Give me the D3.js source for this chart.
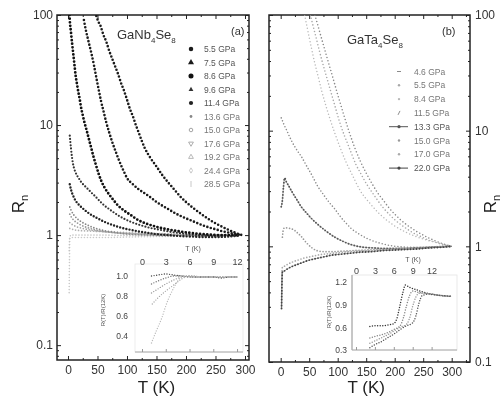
<!DOCTYPE html>
<html>
<head>
<meta charset="utf-8">
<script src="https://cdn.jsdelivr.net/npm/d3@7"></script>
<style>
  body { margin: 0; background: #fff; }
  svg { display: block; font-family: "Liberation Sans", Arial, sans-serif; filter: blur(0.35px); }
</style>
</head>
<body>
<script>
// ---- panel (a): GaNb4Se8, R_n vs T ----
var pressuresA = ["5.5 GPa", "7.5 GPa", "8.6 GPa", "9.6 GPa", "11.4 GPa", "13.6 GPa",
                  "15.0 GPa", "17.6 GPa", "19.2 GPa", "24.4 GPa", "28.5 GPa"];
var nb55 = [[48,98],[51,88],[55,80],[60,66],[65,57],[70,47],[75,40],[80,34],[85,29],[90,24],[95,20.5],[100,17],[105,14],[110,12],[115,10],[120,8.5],[125,7.2],[130,6.2],[140,5.0],[150,4.2],[160,3.5],[170,3.0],[180,2.6],[190,2.25],[200,2.0],[210,1.8],[220,1.64],[230,1.5],[240,1.38],[250,1.28],[260,1.2],[270,1.13],[280,1.07],[290,1.02],[295,1.0]];
var nb75 = [[27,90],[30,74],[33,63],[36,54],[40,44],[44,35],[48,27],[52,21],[56,16.5],[60,13.5],[65,10.5],[70,8.5],[75,7],[80,5.9],[85,5.0],[90,4.3],[95,3.75],[100,3.3],[110,2.9],[120,2.6],[130,2.4],[140,2.2],[150,2.0],[160,1.85],[170,1.72],[180,1.6],[190,1.5],[200,1.42],[210,1.35],[220,1.28],[230,1.22],[240,1.17],[250,1.13],[260,1.09],[270,1.06],[280,1.03],[290,1.01]];
var nb86 = [[2.5,100],[3,90],[5,70],[7,55],[9,44],[11,35],[13,28],[15,24],[17.5,20],[20,17],[22,14.6],[25,12.3],[28,10.5],[31,9.2],[35,7.6],[39,6.3],[43,5.2],[47,4.4],[52,3.6],[57,3.05],[62,2.7],[67,2.45],[72,2.25],[78,2.05],[85,1.85],[92,1.72],[100,1.6],[108,1.5],[116,1.4],[125,1.32],[135,1.26],[150,1.19],[165,1.14],[180,1.1],[200,1.06],[220,1.03],[240,1.01],[260,1.0],[280,1.0],[290,1.0]];
var nb96 = [[3,8],[4,7],[5,6.2],[6,5.5],[7,5.0],[8,4.6],[10,4.1],[12,3.8],[15,3.5],[18,3.3],[22,3.05],[26,2.88],[30,2.74],[35,2.58],[40,2.42],[45,2.28],[50,2.14],[56,1.98],[62,1.85],[70,1.72],[78,1.6],[86,1.5],[95,1.41],[105,1.33],[115,1.27],[125,1.22],[140,1.16],[155,1.12],[170,1.08],[190,1.04],[210,1.01],[230,0.99],[250,0.98],[270,0.98],[290,0.99]];
var nb114 = [[3,2.9],[5,2.6],[7,2.4],[10,2.2],[13,2.05],[16,1.95],[20,1.85],[25,1.75],[30,1.66],[36,1.57],[42,1.5],[50,1.42],[58,1.35],[66,1.29],[75,1.24],[85,1.19],[95,1.15],[105,1.12],[120,1.08],[135,1.05],[150,1.02],[170,1.0],[190,0.98],[210,0.97],[230,0.96],[250,0.96],[270,0.97],[290,0.99]];
var nb136 = [[3,1.8],[6,1.65],[10,1.52],[15,1.42],[20,1.35],[27,1.28],[35,1.22],[45,1.16],[55,1.12],[65,1.09],[75,1.07],[90,1.04],[105,1.02],[120,1.01],[140,1.0],[170,0.99],[200,0.99],[230,0.99],[260,0.99],[290,1.0]];
var nb150 = [[3,1.55],[6,1.45],[10,1.36],[15,1.3],[20,1.25],[27,1.2],[35,1.16],[45,1.12],[55,1.09],[65,1.07],[80,1.05],[95,1.03],[110,1.02],[130,1.01],[160,1.0],[200,1.0],[240,1.0],[290,1.0]];
var nb176 = [[3,1.3],[8,1.24],[15,1.19],[25,1.15],[35,1.12],[50,1.09],[65,1.07],[80,1.05],[100,1.04],[120,1.03],[140,1.02],[170,1.01],[200,1.0],[240,1.0],[290,1.0]];
var nb192 = [[3,1.15],[10,1.12],[20,1.1],[35,1.09],[50,1.08],[70,1.07],[90,1.06],[110,1.05],[130,1.04],[160,1.03],[190,1.02],[220,1.01],[250,1.0],[290,1.0]];
var nb244 = [[2,0.72],[3,0.97],[6,1.0],[15,1.0],[30,1.0],[60,1.0],[100,0.99],[150,0.99],[200,0.99],[250,0.99],[290,1.0]];
var nb285 = [[2,0.3],[2.5,0.6],[3,0.93],[6,0.95],[15,0.95],[30,0.95],[60,0.95],[100,0.96],[150,0.97],[200,0.98],[250,0.99],[290,1.0]];
var seriesA = [nb55, nb75, nb86, nb96, nb114, nb136, nb150, nb176, nb192, nb244, nb285];

// inset (a): R(T)/R(12K) vs T
var insetA1 = [[1.2,1.0],[2,1.01],[3,1.02],[4,1.01],[5,1.0],[6,0.99],[7,0.99],[8,0.99],[9,0.99],[10,0.98],[11,0.99],[12,0.99]];
var insetA2 = [[1.2,0.92],[2,0.95],[3,0.98],[4,1.0],[5,1.0],[7,0.99],[9,0.99],[12,0.99]];
var insetA3 = [[1.2,0.83],[2,0.87],[3,0.92],[4,0.96],[5,0.99],[6,1.0],[8,0.99],[12,0.99]];
var insetA4 = [[1.3,0.72],[2,0.78],[3,0.85],[4,0.91],[5,0.97],[6,1.0],[8,0.99],[12,0.99]];
var insetA5 = [[1.2,0.33],[1.8,0.45],[2.5,0.58],[3,0.7],[3.5,0.8],[4,0.88],[4.5,0.95],[5,0.99],[6,1.0],[8,0.99],[12,0.99]];
var insetSeriesA = [insetA1, insetA2, insetA3, insetA4, insetA5];

// ---- panel (b): GaTa4Se8 ----
var pressuresB = ["4.6 GPa", "5.5 GPa", "8.4 GPa", "11.5 GPa", "13.3 GPa", "15.0 GPa", "17.0 GPa", "22.0 GPa"];
var ta46 = [[60,100],[65,82],[70,67],[75,55],[80,45],[85,37],[90,30.5],[95,25],[100,20.5],[105,17],[110,14],[115,11.7],[120,9.8],[125,8.3],[130,7.1],[140,5.4],[150,4.3],[160,3.5],[170,2.9],[180,2.5],[190,2.15],[200,1.9],[210,1.7],[220,1.55],[230,1.43],[240,1.33],[250,1.25],[260,1.18],[270,1.12],[280,1.07],[290,1.03],[300,1.0]];
var ta55 = [[52,100],[57,80],[62,64],[67,51],[72,41],[77,33.5],[82,27.5],[87,22.5],[92,18.5],[97,15.2],[102,12.5],[107,10.5],[112,9.0],[118,7.6],[125,6.2],[132,5.1],[140,4.3],[150,3.5],[160,2.95],[170,2.5],[180,2.15],[190,1.9],[200,1.7],[210,1.55],[220,1.43],[230,1.33],[240,1.25],[250,1.19],[260,1.13],[270,1.09],[280,1.05],[290,1.02],[300,1.0]];
var ta84 = [[42,100],[46,80],[50,64],[55,49],[60,38],[66,29],[72,22],[80,16],[88,12],[96,9.2],[105,7],[115,5.3],[125,4.2],[140,3.0],[155,2.4],[170,1.98],[185,1.7],[200,1.5],[220,1.32],[240,1.2],[260,1.12],[280,1.06],[300,1.0]];
var ta115 = [[1,12.9],[3,12.2],[6,11.2],[10,10.2],[15,9.0],[20,8.0],[26,7.1],[32,6.4],[36,6.0],[45,5.0],[55,4.1],[65,3.3],[75,2.8],[85,2.4],[95,2.1],[105,1.8],[115,1.58],[124,1.42],[135,1.3],[153,1.16],[170,1.08],[190,1.02],[210,0.99],[230,0.98],[250,0.98],[270,0.99],[290,1.0],[300,1.0]];
var ta133 = [[1,2.2],[3,2.5],[5,3.3],[7,3.9],[10,3.6],[13,3.4],[20,2.95],[28,2.55],[36,2.2],[45,1.95],[55,1.72],[65,1.55],[80,1.35],[95,1.2],[110,1.1],[125,1.03],[140,0.99],[160,0.97],[180,0.96],[200,0.96],[220,0.96],[240,0.97],[260,0.98],[280,0.99],[300,1.0]];
var ta150 = [[3,1.2],[5,1.42],[7.5,1.45],[12,1.44],[18,1.42],[24,1.38],[30,1.3],[36,1.22],[42,1.12],[48,1.04],[55,0.97],[63,0.92],[75,0.9],[90,0.9],[110,0.91],[130,0.92],[150,0.93],[170,0.94],[190,0.95],[210,0.96],[230,0.97],[250,0.98],[270,0.99],[290,1.0],[300,1.0]];
var ta170 = [[1.5,0.3],[2,0.45],[2.5,0.62],[3,0.66],[6,0.67],[10,0.69],[20,0.73],[30,0.76],[40,0.79],[50,0.81],[60,0.83],[70,0.85],[80,0.86],[90,0.87],[100,0.88],[120,0.9],[140,0.91],[160,0.92],[180,0.93],[200,0.94],[220,0.95],[240,0.96],[260,0.97],[280,0.99],[300,1.0]];
var ta220 = [[1.5,0.29],[2,0.4],[2.5,0.55],[3,0.6],[6,0.61],[10,0.63],[20,0.67],[30,0.7],[40,0.73],[50,0.76],[60,0.78],[70,0.8],[80,0.82],[90,0.84],[100,0.85],[120,0.87],[140,0.89],[160,0.9],[180,0.92],[200,0.93],[220,0.94],[240,0.95],[260,0.97],[280,0.98],[300,1.0]];
var seriesB = [ta46, ta55, ta84, ta115, ta133, ta150, ta170, ta220];

var insetB1 = [[2.2,0.61],[3,0.62],[4,0.62],[5,0.63],[6,0.65],[6.5,0.72],[7,0.9],[7.5,1.08],[7.8,1.16],[8.5,1.13],[9.5,1.1],[10.5,1.07],[12,1.04],[13.5,1.02],[15,1.01]];
var insetB2 = [[2.2,0.46],[3,0.48],[4,0.5],[5,0.53],[6,0.57],[7,0.62],[7.5,0.72],[8,0.88],[8.5,1.02],[9,1.08],[10,1.06],[11,1.05],[12,1.04],[13.5,1.02],[15,1.01]];
var insetB3 = [[2.2,0.39],[3,0.42],[4,0.46],[5,0.5],[6,0.55],[7,0.6],[8,0.64],[8.5,0.72],[9,0.88],[9.5,1.0],[10,1.05],[11,1.05],[12,1.04],[13.5,1.02],[15,1.01]];
var insetB4 = [[2.2,0.33],[3,0.37],[4,0.41],[5,0.46],[6,0.51],[7,0.57],[8,0.62],[9,0.66],[9.5,0.75],[10,0.92],[10.5,1.02],[11.5,1.04],[12.5,1.03],[14,1.02],[15,1.01]];
var insetSeriesB = [insetB1, insetB2, insetB3, insetB4];

var tTicks = [0, 50, 100, 150, 200, 250, 300];
var rTicks = [0.1, 1, 10, 100];
var insetTTicks = [0, 3, 6, 9, 12];
var insetATicks = [0.4, 0.6, 0.8, 1.0];
var insetBTicks = [0.3, 0.6, 0.9, 1.2];

// styles (kept apart from the values)
var styleA = [
  { color: "#1b1b1b", w: 2.6, gap: 3.6, sym: d3.symbolCircle, size: 16 },
  { color: "#1b1b1b", w: 2.6, gap: 3.6, sym: d3.symbolTriangle, size: 16 },
  { color: "#111", w: 2.8, gap: 3.6, sym: d3.symbolCircle, size: 20 },
  { color: "#333", w: 2.2, gap: 3.2, sym: d3.symbolTriangle, size: 10 },
  { color: "#222", w: 2.4, gap: 3.2, sym: d3.symbolCircle, size: 14 },
  { color: "#888", w: 1.8, gap: 3, sym: d3.symbolCircle, size: 6 },
  { color: "#999", w: 1.8, gap: 3, sym: d3.symbolCircle, size: 10, open: true },
  { color: "#a5a5a5", w: 1.7, gap: 3, sym: d3.symbolTriangle, size: 10, open: true, rot: 180 },
  { color: "#b0b0b0", w: 1.7, gap: 3, sym: d3.symbolTriangle, size: 10, open: true },
  { color: "#c2c2c2", w: 1.6, gap: 3, sym: d3.symbolDiamond, size: 8, open: true },
  { color: "#c8c8c8", w: 1.6, gap: 3, sym: null }
];
var styleB = [
  { color: "#8a8a8a", w: 1.6, gap: 3.4, mark: "dash" },
  { color: "#a8a8a8", w: 1.6, gap: 3.4, mark: "dot" },
  { color: "#b8b8b8", w: 1.5, gap: 3.4, mark: "dot" },
  { color: "#8c8c8c", w: 1.6, gap: 3.2, mark: "slash" },
  { color: "#555", w: 1.9, gap: 3, mark: "line" },
  { color: "#999", w: 1.7, gap: 3, mark: "dot" },
  { color: "#aaa", w: 1.7, gap: 3, mark: "dot" },
  { color: "#444", w: 1.9, gap: 3, mark: "line" }
];
var insetStyleA = ["#444", "#777", "#999", "#aaa", "#bbb"];
var insetStyleB = ["#333", "#888", "#999", "#555"];

var svg = d3.select("body").append("svg")
    .attr("width", 502)
    .attr("height", 398);

var ink = "#222";

function minorLog(lo, hi) {
    var out = [];
    for (var e = -2; e <= 2; e++) {
        for (var m = 2; m <= 9; m++) {
            var v = m * Math.pow(10, e);
            if (v > lo && v < hi) out.push(v);
        }
    }
    return out;
}

function cleanAxis(g, fs) {
    g.select(".domain").remove();
    g.selectAll(".tick line").attr("stroke", ink).attr("stroke-width", 1);
    g.selectAll(".tick text").attr("fill", "#333").attr("font-size", fs || 12);
}

function dotted(g, x, y, data, st, clip) {
    g.append("path")
        .datum(data)
        .attr("clip-path", clip ? "url(#" + clip + ")" : null)
        .attr("fill", "none")
        .attr("stroke", st.color)
        .attr("stroke-width", st.w)
        .attr("stroke-linecap", "round")
        .attr("stroke-dasharray", "0," + st.gap)
        .attr("d", d3.line().x(d => x(d[0])).y(d => y(d[1])).curve(d3.curveMonotoneX));
}

function drawPanel(p) {
    var g = svg.append("g");
    var x = d3.scaleLinear().domain(p.tDomain).range([p.left, p.right]);
    var y = d3.scaleLog().domain(p.rDomain).range([p.bottom, p.top]);

    g.append("clipPath").attr("id", p.id)
      .append("rect")
        .attr("x", p.left).attr("y", p.top)
        .attr("width", p.right - p.left).attr("height", p.bottom - p.top);

    var minorT = d3.range(25, 330, 50).filter(t => t < p.tDomain[1]);
    var minorR = minorLog(p.rDomain[0], p.rDomain[1]);

    // bottom + top ticks
    g.append("g").attr("transform", `translate(0,${p.bottom})`)
        .call(d3.axisBottom(x).tickValues(tTicks).tickSize(-4).tickPadding(5))
        .call(a => cleanAxis(a, 12));
    g.append("g").attr("transform", `translate(0,${p.bottom})`)
        .call(d3.axisBottom(x).tickValues(minorT).tickSize(-2).tickFormat(""))
        .call(a => cleanAxis(a));
    g.append("g").attr("transform", `translate(0,${p.top})`)
        .call(d3.axisTop(x).tickValues(tTicks).tickSize(-4).tickFormat(""))
        .call(a => cleanAxis(a));
    g.append("g").attr("transform", `translate(0,${p.top})`)
        .call(d3.axisTop(x).tickValues(minorT).tickSize(-2).tickFormat(""))
        .call(a => cleanAxis(a));

    // left + right log ticks
    var labelLeft = p.labels === "left";
    g.append("g").attr("transform", `translate(${p.left},0)`)
        .call(d3.axisLeft(y).tickValues(rTicks).tickSize(-4).tickPadding(4)
            .tickFormat(labelLeft ? (d => String(d)) : ""))
        .call(a => cleanAxis(a, 12));
    g.append("g").attr("transform", `translate(${p.left},0)`)
        .call(d3.axisLeft(y).tickValues(minorR).tickSize(-2).tickFormat(""))
        .call(a => cleanAxis(a));
    g.append("g").attr("transform", `translate(${p.right},0)`)
        .call(d3.axisRight(y).tickValues(rTicks).tickSize(-4).tickPadding(5)
            .tickFormat(labelLeft ? "" : (d => String(d))))
        .call(a => cleanAxis(a, 12));
    g.append("g").attr("transform", `translate(${p.right},0)`)
        .call(d3.axisRight(y).tickValues(minorR).tickSize(-2).tickFormat(""))
        .call(a => cleanAxis(a));

    g.append("rect")
        .attr("x", p.left).attr("y", p.top)
        .attr("width", p.right - p.left).attr("height", p.bottom - p.top)
        .attr("fill", "none").attr("stroke", ink).attr("stroke-width", 1.5);

    // axis titles
    g.append("text")
        .attr("x", (x(0) + x(300)) / 2).attr("y", 393)
        .attr("text-anchor", "middle").attr("font-size", 17).attr("fill", "#222")
        .text("T (K)");
    var rl = g.append("text")
        .attr("transform", `translate(${p.rLabelX},204) rotate(-90)`)
        .attr("text-anchor", "middle").attr("font-size", 17).attr("fill", "#222");
    rl.append("tspan").text("R");
    rl.append("tspan").attr("font-size", 11).attr("dy", 4).text("n");

    return { g: g, x: x, y: y };
}

function title(g, x0, y0, metal) {
    var t = g.append("text").attr("x", x0).attr("y", y0)
        .attr("font-size", 13).attr("fill", "#333");
    t.append("tspan").text("Ga" + metal);
    t.append("tspan").attr("font-size", 8).attr("dy", 4).text("4");
    t.append("tspan").attr("dy", -4).text("Se");
    t.append("tspan").attr("font-size", 8).attr("dy", 4).text("8");
}

// ---------------- panel (a) ----------------
var pa = drawPanel({
    id: "clipA", left: 57, right: 249, top: 15, bottom: 360,
    tDomain: [-18.64, 306.8], rDomain: [0.0733, 100],
    labels: "left", rLabelX: 24
});
seriesA.slice().reverse().forEach(function (s, i) {
    var k = seriesA.length - 1 - i;
    dotted(pa.g, pa.x, pa.y, s, styleA[k], "clipA");
});
title(pa.g, 117, 39, "Nb");
pa.g.append("text").attr("x", 231).attr("y", 35).attr("font-size", 11).attr("fill", "#333").text("(a)");

// legend (a)
pressuresA.forEach(function (lab, i) {
    var st = styleA[i], yy = 49 + i * 13.5;
    if (st.sym) {
        pa.g.append("path")
            .attr("transform", `translate(191,${yy}) rotate(${st.rot || 0})`)
            .attr("d", d3.symbol(st.sym, st.size)())
            .attr("fill", st.open ? "none" : st.color)
            .attr("stroke", st.color).attr("stroke-width", st.open ? 0.9 : 0);
    } else {
        pa.g.append("line").attr("x1", 191).attr("x2", 191).attr("y1", yy - 3).attr("y2", yy + 3)
            .attr("stroke", st.color).attr("stroke-width", 1);
    }
    pa.g.append("text").attr("x", 204).attr("y", yy + 3)
        .attr("font-size", 8.5).attr("fill", i < 5 ? "#555" : "#777").text(lab);
});

// inset (a)
(function () {
    var g = svg.append("g");
    var x = d3.scaleLinear().domain([-0.884, 12.75]).range([135, 243]);
    var y = d3.scaleLinear().domain([0.24, 1.12]).range([352, 264]);
    g.append("rect").attr("x", 135).attr("y", 264).attr("width", 108).attr("height", 88)
        .attr("fill", "none").attr("stroke", "#e8e8e8").attr("stroke-width", 0.8);
    g.append("line").attr("x1", 135).attr("x2", 243).attr("y1", 352).attr("y2", 352)
        .attr("stroke", "#aaa").attr("stroke-width", 1);
    g.append("g").attr("transform", "translate(0,352)")
        .call(d3.axisBottom(x).tickValues(insetTTicks).tickSize(-3).tickFormat(""))
        .call(a => { cleanAxis(a); a.selectAll(".tick line").attr("stroke", "#999"); });
    g.append("g").attr("transform", "translate(0,264)")
        .call(d3.axisTop(x).tickValues(insetTTicks).tickSize(0).tickPadding(-1))
        .call(a => { cleanAxis(a, 9); a.selectAll("text").attr("fill", "#444"); });
    g.append("g").attr("transform", "translate(135,0)")
        .call(d3.axisLeft(y).tickValues(insetATicks).tickSize(0).tickPadding(7).tickFormat(d3.format(".1f")))
        .call(a => { cleanAxis(a, 8.5); a.selectAll("text").attr("fill", "#444"); });
    g.append("text").attr("x", 193).attr("y", 251).attr("text-anchor", "middle")
        .attr("font-size", 7).attr("fill", "#555").text("T (K)");
    g.append("text").attr("transform", "translate(105,310) rotate(-90)").attr("text-anchor", "middle")
        .attr("font-size", 6).attr("fill", "#555").text("R(T)/R(12K)");
    insetSeriesA.forEach(function (s, i) {
        dotted(g, x, y, s, { color: insetStyleA[i], w: 1.4, gap: 2.6 });
    });
})();

// ---------------- panel (b) ----------------
var pb = drawPanel({
    id: "clipB", left: 269, right: 470, top: 15, bottom: 362,
    tDomain: [-20.5, 332.1], rDomain: [0.1, 100],
    labels: "right", rLabelX: 496
});
seriesB.forEach(function (s, i) {
    var st = styleB[i];
    if (st.mark === "line") {
        pb.g.append("path").datum(s)
            .attr("clip-path", "url(#clipB)")
            .attr("fill", "none").attr("stroke", st.color).attr("stroke-width", 0.6)
            .attr("stroke-opacity", 0.7)
            .attr("d", d3.line().x(d => pb.x(d[0])).y(d => pb.y(d[1])).curve(d3.curveMonotoneX));
    }
    dotted(pb.g, pb.x, pb.y, s, st, "clipB");
});
title(pb.g, 347, 44, "Ta");
pb.g.append("text").attr("x", 442).attr("y", 35).attr("font-size", 11).attr("fill", "#333").text("(b)");

// legend (b)
pressuresB.forEach(function (lab, i) {
    var st = styleB[i], yy = 71.5 + i * 13.8;
    if (st.mark === "line") {
        pb.g.append("line").attr("x1", 389).attr("x2", 408).attr("y1", yy).attr("y2", yy)
            .attr("stroke", st.color).attr("stroke-width", 1);
        pb.g.append("circle").attr("cx", 399).attr("cy", yy).attr("r", 1.6).attr("fill", st.color);
    } else if (st.mark === "dash") {
        pb.g.append("line").attr("x1", 397).attr("x2", 401).attr("y1", yy).attr("y2", yy)
            .attr("stroke", st.color).attr("stroke-width", 1);
    } else if (st.mark === "slash") {
        pb.g.append("line").attr("x1", 398).attr("x2", 400).attr("y1", yy + 2).attr("y2", yy - 2)
            .attr("stroke", st.color).attr("stroke-width", 1);
    } else {
        pb.g.append("circle").attr("cx", 399).attr("cy", yy).attr("r", 1.2).attr("fill", st.color);
    }
    pb.g.append("text").attr("x", 414).attr("y", yy + 3)
        .attr("font-size", 8.5).attr("fill", (i === 4 || i === 7) ? "#555" : "#777").text(lab);
});

// inset (b)
(function () {
    var g = svg.append("g");
    var x = d3.scaleLinear().domain([-0.635, 16.03]).range([352, 457]);
    var y = d3.scaleLinear().domain([0.3, 1.293]).range([350, 275]);
    g.append("rect").attr("x", 352).attr("y", 275).attr("width", 105).attr("height", 75)
        .attr("fill", "none").attr("stroke", "#e4e4e4").attr("stroke-width", 0.8);
    g.append("line").attr("x1", 352).attr("x2", 352).attr("y1", 275).attr("y2", 350)
        .attr("stroke", "#999").attr("stroke-width", 1);
    g.append("line").attr("x1", 352).attr("x2", 457).attr("y1", 350).attr("y2", 350)
        .attr("stroke", "#aaa").attr("stroke-width", 1);
    g.append("g").attr("transform", "translate(0,350)")
        .call(d3.axisBottom(x).tickValues(insetTTicks).tickSize(-3).tickFormat(""))
        .call(a => { cleanAxis(a); a.selectAll(".tick line").attr("stroke", "#999"); });
    g.append("g").attr("transform", "translate(0,275)")
        .call(d3.axisTop(x).tickValues(insetTTicks).tickSize(0).tickPadding(1))
        .call(a => { cleanAxis(a, 9); a.selectAll("text").attr("fill", "#444"); });
    g.append("g").attr("transform", "translate(352,0)")
        .call(d3.axisLeft(y).tickValues(insetBTicks).tickSize(0).tickPadding(5).tickFormat(d3.format(".1f")))
        .call(a => { cleanAxis(a, 8.5); a.selectAll("text").attr("fill", "#444"); });
    g.append("text").attr("x", 413).attr("y", 262).attr("text-anchor", "middle")
        .attr("font-size", 7).attr("fill", "#555").text("T (K)");
    g.append("text").attr("transform", "translate(331,312) rotate(-90)").attr("text-anchor", "middle")
        .attr("font-size", 6).attr("fill", "#555").text("R(T)/R(12K)");
    insetSeriesB.forEach(function (s, i) {
        dotted(g, x, y, s, { color: insetStyleB[i], w: 1.5, gap: 2.6 });
    });
})();
</script>
</body>
</html>
